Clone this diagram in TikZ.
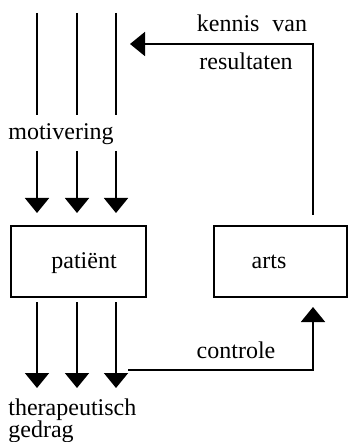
\documentclass[tikz,border=0pt]{standalone}
\usepackage{fontspec}
\setmainfont{Liberation Serif}
\usetikzlibrary{arrows.meta}
\begin{document}
\begin{tikzpicture}[x=0.5pt,y=-0.5pt,
  ln/.style={line width=0.9pt},
  arr/.style={ln,-{Triangle[width=12pt,length=7.5pt]}},
  box/.style={draw,line width=0.8pt,minimum width=67.5pt,minimum height=35.5pt,inner sep=0pt,anchor=north west},
  lbl/.style={font=\fontsize{12}{14}\selectfont,inner sep=0pt,anchor=base}]
\useasboundingbox (0,0) rectangle (347,442);
% boxes
\node[box] (pat) at (10,225) {};
\node[box,minimum width=66.5pt] (arts) at (213,225) {};
\node[lbl] (patl) at (84,268) {patiënt};
\node[lbl] (artsl) at (269,268) {arts};
% patient arrows
\foreach \i/\x in {1/37,2/77,3/116} {
  \coordinate (t\i) at (\x,13);
  \coordinate (m\i) at (\x,115);
  \coordinate (n\i) at (\x,151);
  \coordinate (h\i) at (\x,213);
  \coordinate (b\i) at (\x,302);
  \coordinate (e\i) at (\x,388);
  \draw[ln] (t\i) -- (m\i);
  \draw[arr] (n\i) -- (h\i);
  \draw[arr] (b\i) -- (e\i);
}
\node[lbl] (mot) at (61,140) {motivering};
% feedback
\coordinate (kr) at (313,215);
\coordinate (kt) at (130,44);
\draw[arr] (kr) |- (kt);
\node[lbl] (kv) at (252,32) {kennis\hspace{6.5pt}van};
\node[lbl] (res) at (246,70) {resultaten};
% controle
\coordinate (c0) at (128,370);
\coordinate (c1) at (313,307);
\draw[arr] (c0) -| (c1);
\node[lbl] (con) at (236,358) {controle};
% output
\node[lbl,anchor=base west] (ther) at (8,415) {therapeutisch};
\node[lbl,anchor=base west] (ged) at (8,437) {gedrag};
\end{tikzpicture}
\end{document}
